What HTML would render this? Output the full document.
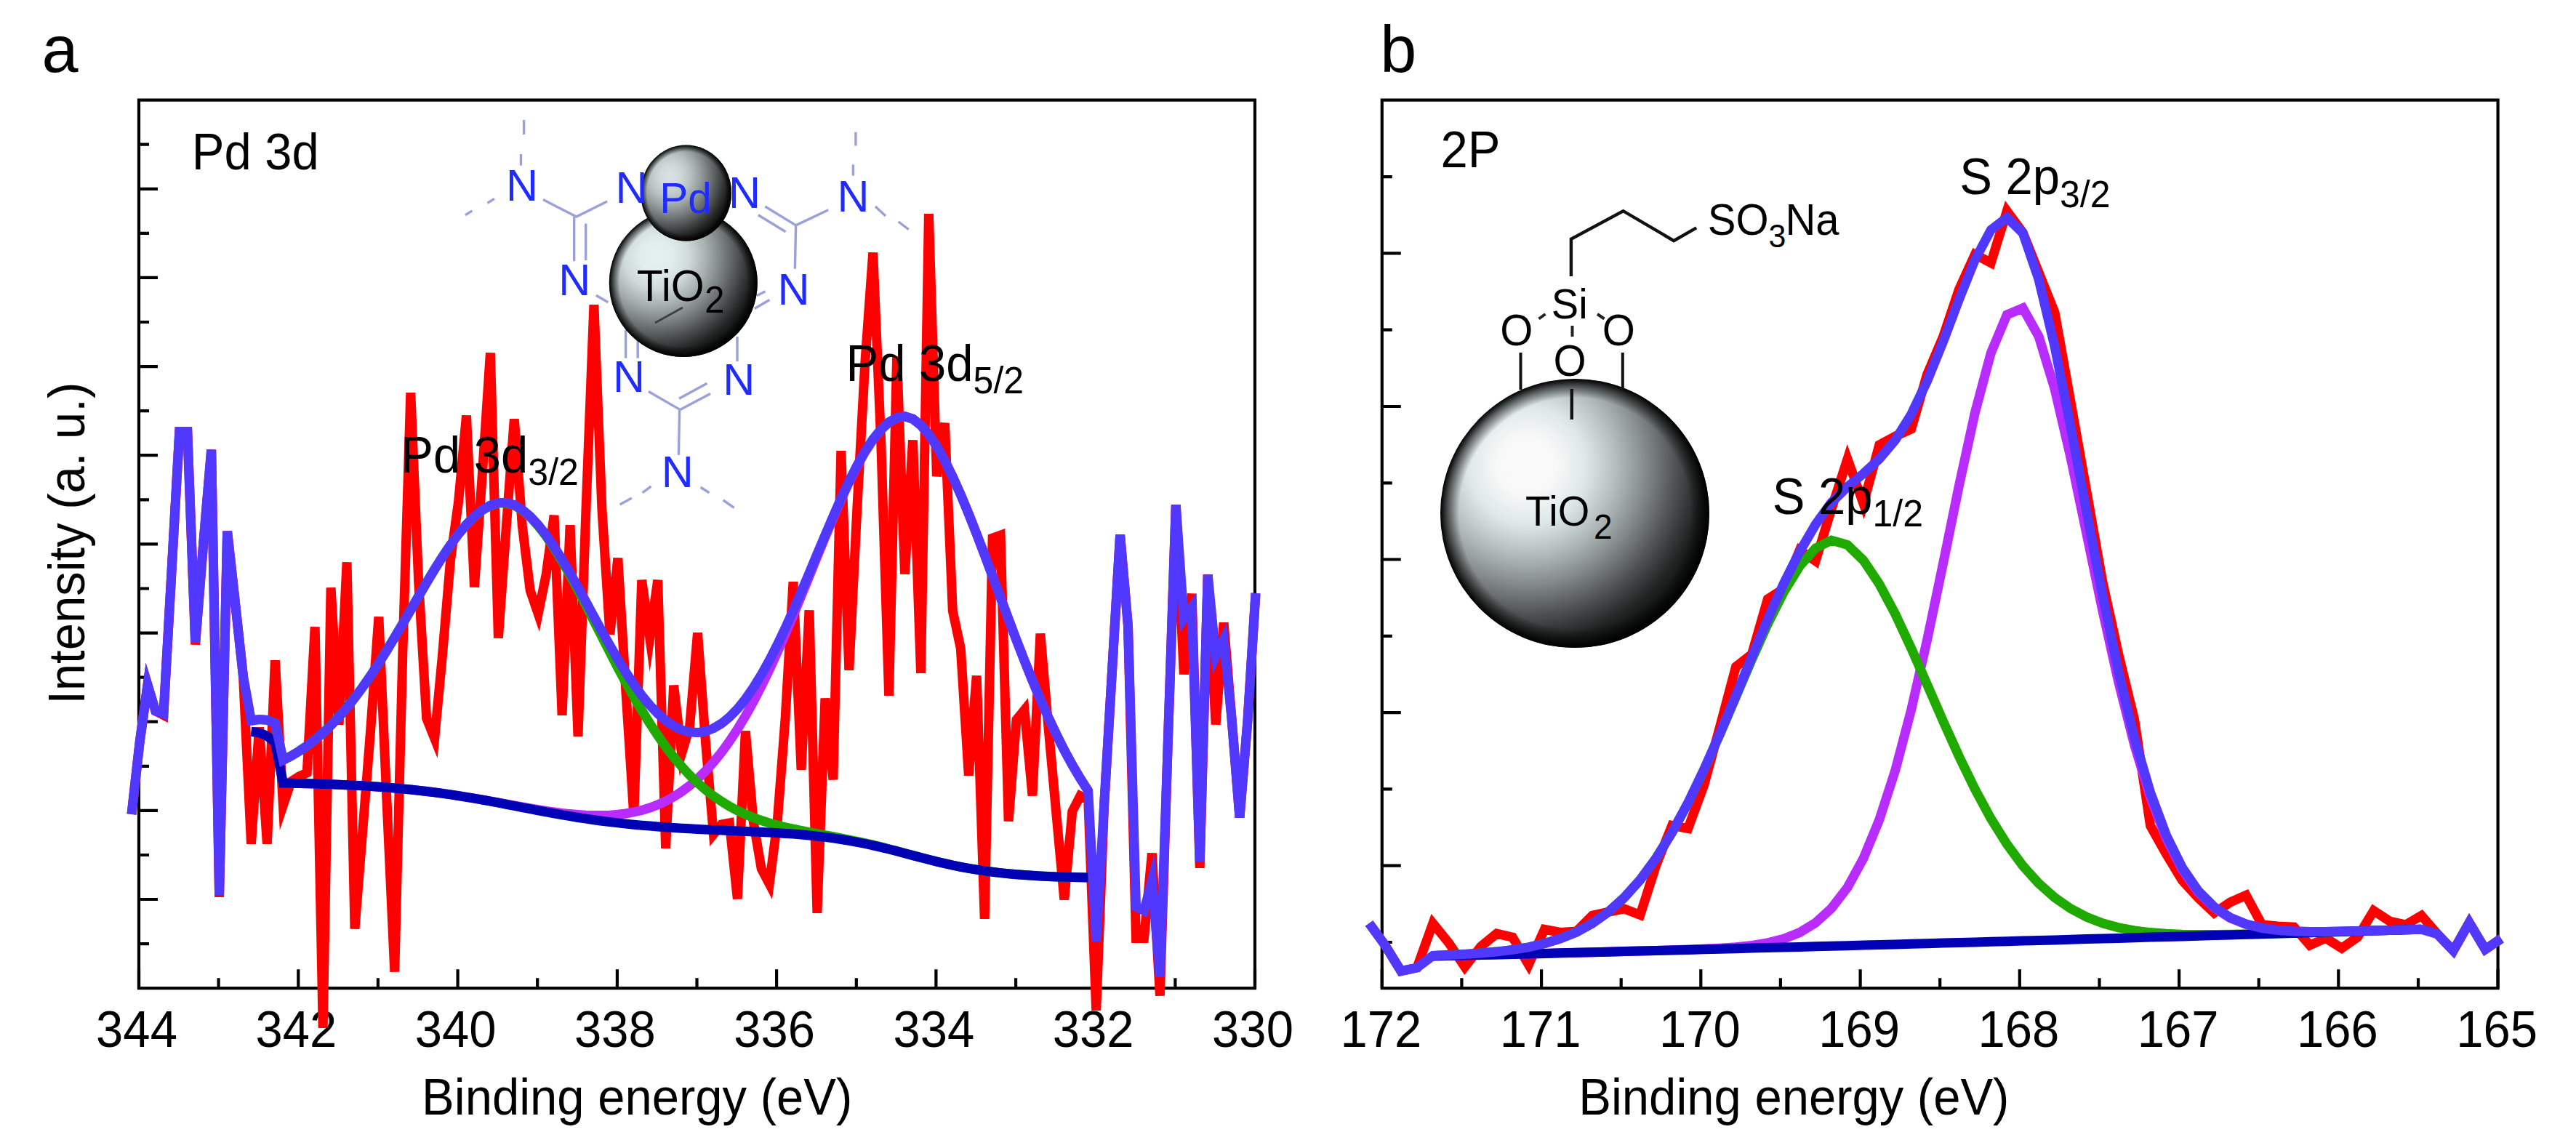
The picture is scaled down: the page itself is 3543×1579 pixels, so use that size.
<!DOCTYPE html><html><head><meta charset="utf-8"><style>html,body{margin:0;padding:0;background:#fff;overflow:hidden}svg{display:block}text{font-family:"Liberation Sans",sans-serif}</style></head><body>
<svg xmlns="http://www.w3.org/2000/svg" width="3543" height="1579" viewBox="0 0 3543 1579">
<defs>
<radialGradient id="gs" cx="0.5" cy="0.5" r="0.5" fx="0.3" fy="0.28"><stop offset="0" stop-color="#ffffff"/><stop offset="0.25" stop-color="#eef1f1"/><stop offset="0.5" stop-color="#b7c1c1"/><stop offset="0.7" stop-color="#6f7c7c"/><stop offset="0.86" stop-color="#2a3232"/><stop offset="0.96" stop-color="#070909"/><stop offset="1" stop-color="#000"/></radialGradient>
</defs>
<rect width="3543" height="1579" fill="#fff"/>
<defs><radialGradient id="sphA" cx="0.322" cy="0.322" r="0.730" gradientTransform="translate(0,0.322) scale(1,1.000) translate(0,-0.322)"><stop offset="0" stop-color="#fafafa"/><stop offset="0.15" stop-color="#f8f8f8"/><stop offset="0.3" stop-color="#dee8e8"/><stop offset="0.45" stop-color="#b5bebe"/><stop offset="0.6" stop-color="#868c8c"/><stop offset="0.75" stop-color="#515555"/><stop offset="0.9" stop-color="#212323"/><stop offset="1.0" stop-color="#0e0f0f"/></radialGradient><radialGradient id="rim" cx="0.5" cy="0.5" r="0.5"><stop offset="0" stop-color="#000" stop-opacity="0"/><stop offset="0.860" stop-color="#000" stop-opacity="0"/><stop offset="0.950" stop-color="#000" stop-opacity="0.600"/><stop offset="1" stop-color="#000" stop-opacity="1"/></radialGradient></defs>
<defs><radialGradient id="sphT" cx="0.32" cy="0.32" r="0.73"><stop offset="0" stop-color="#e5f0f0"/><stop offset="0.15" stop-color="#e1ecec"/><stop offset="0.3" stop-color="#d0dada"/><stop offset="0.45" stop-color="#aab2b2"/><stop offset="0.6" stop-color="#7e8484"/><stop offset="0.75" stop-color="#4e5252"/><stop offset="0.9" stop-color="#202222"/><stop offset="1.0" stop-color="#0b0c0c"/></radialGradient><radialGradient id="sphP" cx="0.32" cy="0.32" r="0.73"><stop offset="0" stop-color="#d8e2e2"/><stop offset="0.15" stop-color="#d0dada"/><stop offset="0.3" stop-color="#bbc4c4"/><stop offset="0.45" stop-color="#99a0a0"/><stop offset="0.6" stop-color="#717676"/><stop offset="0.75" stop-color="#474a4a"/><stop offset="0.9" stop-color="#1d1e1e"/><stop offset="1.0" stop-color="#0a0a0a"/></radialGradient></defs>
<path d="M747.0,274.6 L792.8,298.1 L835.1,277.0" stroke="#9aa0da" stroke-width="3.4" fill="none" />
<path d="M789.7,298.1 L789.7,359.2" stroke="#9aa0da" stroke-width="3.4" fill="none" />
<path d="M805.7,307.5 L805.7,358.1" stroke="#9aa0da" stroke-width="3.4" fill="none" />
<path d="M720.6,165.0 L720.6,185.0" stroke="#9aa0da" stroke-width="3.4" fill="none" />
<path d="M716.4,212.0 L716.4,227.6" stroke="#9aa0da" stroke-width="3.4" fill="none" />
<path d="M680.0,273.4 L670.5,279.3" stroke="#9aa0da" stroke-width="3.4" fill="none" />
<path d="M649.4,289.9 L640.0,295.8" stroke="#9aa0da" stroke-width="3.4" fill="none" />
<path d="M819.8,406.3 L836.3,415.7" stroke="#9aa0da" stroke-width="3.4" fill="none" />
<path d="M1052.3,284.0 L1094.6,309.9" stroke="#9aa0da" stroke-width="3.4" fill="none" />
<path d="M1042.9,295.8 L1080.5,318.8" stroke="#9aa0da" stroke-width="3.4" fill="none" />
<path d="M1094.6,309.9 L1139.3,288.7" stroke="#9aa0da" stroke-width="3.4" fill="none" />
<path d="M1094.6,309.9 L1093.4,369.8" stroke="#9aa0da" stroke-width="3.4" fill="none" />
<path d="M1176.9,181.7 L1176.9,200.5" stroke="#9aa0da" stroke-width="3.4" fill="none" />
<path d="M1173.4,226.4 L1173.4,241.7" stroke="#9aa0da" stroke-width="3.4" fill="none" />
<path d="M1203.9,284.0 L1218.0,297.0" stroke="#9aa0da" stroke-width="3.4" fill="none" />
<path d="M1235.7,305.0 L1249.8,315.7" stroke="#9aa0da" stroke-width="3.4" fill="none" />
<path d="M1037.7,424.4 L1058.4,412.6" stroke="#9aa0da" stroke-width="3.4" fill="none" />
<path d="M1040.7,406.7 L1052.5,400.7" stroke="#9aa0da" stroke-width="3.4" fill="none" />
<path d="M892.0,538.5 L935.5,563.6" stroke="#9aa0da" stroke-width="3.4" fill="none" />
<path d="M935.5,563.6 L977.0,541.4" stroke="#9aa0da" stroke-width="3.4" fill="none" />
<path d="M934.0,548.2 L972.5,527.2" stroke="#9aa0da" stroke-width="3.4" fill="none" />
<path d="M934.6,563.6 L933.4,625.9" stroke="#9aa0da" stroke-width="3.4" fill="none" />
<path d="M895.5,668.8 L883.7,677.7" stroke="#9aa0da" stroke-width="3.4" fill="none" />
<path d="M868.9,685.1 L852.6,694.0" stroke="#9aa0da" stroke-width="3.4" fill="none" />
<path d="M963.6,670.3 L975.5,677.7" stroke="#9aa0da" stroke-width="3.4" fill="none" />
<path d="M994.8,688.0 L1009.6,698.4" stroke="#9aa0da" stroke-width="3.4" fill="none" />
<path d="M860.6,454.0 L860.6,492.6" stroke="#9aa0da" stroke-width="3.4" fill="none" />
<path d="M877.2,454.0 L877.2,492.6" stroke="#9aa0da" stroke-width="3.4" fill="none" />
<path d="M1014.0,463.0 L1014.0,497.0" stroke="#9aa0da" stroke-width="3.4" fill="none" />
<circle cx="939.8" cy="389" r="102" fill="url(#sphT)"/>
<circle cx="939.8" cy="389" r="102" fill="url(#rim)"/>
<path d="M901.0,444.0 L939.0,423.0" stroke="#3c4242" stroke-width="3" fill="none" />
<text transform="translate(875.8,413.7) scale(1,1.04)" font-size="59" fill="#000" text-anchor="start">TiO</text><text transform="translate(969.3,430.0) scale(1,1.04)" font-size="49" fill="#000" text-anchor="start">2</text>
<ellipse cx="943.6" cy="265.5" rx="62.5" ry="66" fill="url(#sphP)"/>
<ellipse cx="943.6" cy="265.5" rx="62.5" ry="66" fill="url(#rim)"/>
<text transform="translate(907.2,292.9) scale(1,1.0)" font-size="58.5" fill="#1f2bff" text-anchor="start">Pd</text>
<text transform="translate(696.1,275.8) scale(1,1.0)" font-size="61" fill="#1f2bff" text-anchor="start">N</text>
<text transform="translate(846.6,278.8) scale(1,1.0)" font-size="61" fill="#1f2bff" text-anchor="start">N</text>
<text transform="translate(1001.9,285.9) scale(1,1.0)" font-size="61" fill="#1f2bff" text-anchor="start">N</text>
<text transform="translate(1151.4,290.6) scale(1,1.0)" font-size="61" fill="#1f2bff" text-anchor="start">N</text>
<text transform="translate(768.3,405.8) scale(1,1.0)" font-size="61" fill="#1f2bff" text-anchor="start">N</text>
<text transform="translate(1069.5,418.5) scale(1,1.0)" font-size="61" fill="#1f2bff" text-anchor="start">N</text>
<text transform="translate(843.1,538.5) scale(1,1.0)" font-size="61" fill="#1f2bff" text-anchor="start">N</text>
<text transform="translate(994.2,542.9) scale(1,1.0)" font-size="61" fill="#1f2bff" text-anchor="start">N</text>
<text transform="translate(909.8,670.3) scale(1,1.0)" font-size="61" fill="#1f2bff" text-anchor="start">N</text>
<circle cx="2166" cy="706" r="185" fill="url(#sphA)"/>
<circle cx="2166" cy="706" r="185" fill="url(#rim)"/>
<path d="M2160.9,380.0 L2160.9,328.7 L2232.5,290.2 L2302.1,331.1 L2333.2,313.3" stroke="#111" stroke-width="4.4" fill="none" stroke-linejoin="miter"/>
<path d="M2091.5,485.0 L2091.5,536.0" stroke="#111" stroke-width="4" fill="none" />
<path d="M2231.8,485.0 L2231.8,536.0" stroke="#111" stroke-width="4" fill="none" />
<path d="M2161.8,535.0 L2161.8,577.0" stroke="#111" stroke-width="4.4" fill="none" />
<path d="M2116.5,438.5 L2125.5,432.0" stroke="#222" stroke-width="4" fill="none" />
<path d="M2197.0,432.0 L2206.5,438.5" stroke="#222" stroke-width="4" fill="none" />
<path d="M2162.5,448.0 L2162.5,463.0" stroke="#222" stroke-width="4" fill="none" />
<text transform="translate(2098.1,723.0) scale(1,1.04)" font-size="56" fill="#000" text-anchor="start">TiO</text><text transform="translate(2191.9,740.5) scale(1,1.04)" font-size="46" fill="#000" text-anchor="start">2</text>
<text transform="translate(2133.8,437.7) scale(1,1.04)" font-size="56" fill="#000" text-anchor="start">Si</text>
<text transform="translate(2063.3,475.0) scale(1,1.04)" font-size="58" fill="#000" text-anchor="start">O</text><text transform="translate(2203.8,475.0) scale(1,1.04)" font-size="58" fill="#000" text-anchor="start">O</text><text transform="translate(2136.5,516.5) scale(1,1.04)" font-size="58" fill="#000" text-anchor="start">O</text>
<text transform="translate(2348.7,323.0) scale(1,1.04)" font-size="58" fill="#000" text-anchor="start">SO</text><text transform="translate(2432.4,340.3) scale(1,1.04)" font-size="43" fill="#000" text-anchor="start">3</text><text transform="translate(2455.4,323.0) scale(1,1.04)" font-size="58" fill="#000" text-anchor="start">Na</text>
<rect x="191.0" y="137.6" width="1535.0" height="1221.6" fill="none" stroke="#000" stroke-width="4.2"/>
<rect x="1900.8" y="137.6" width="1534.8" height="1221.6" fill="none" stroke="#000" stroke-width="4.2"/>
<path d="M191.0,1298.1h14 M191.0,1237.0h26 M191.0,1176.0h14 M191.0,1114.9h26 M191.0,1053.8h14 M191.0,992.7h26 M191.0,931.6h14 M191.0,870.6h26 M191.0,809.5h14 M191.0,748.4h26 M191.0,687.3h14 M191.0,626.2h26 M191.0,565.2h14 M191.0,504.1h26 M191.0,443.0h14 M191.0,381.9h26 M191.0,320.8h14 M191.0,259.8h26 M191.0,198.7h14 M191.0,1359.2v-26 M300.6,1359.2v-14 M410.3,1359.2v-26 M519.9,1359.2v-14 M629.6,1359.2v-26 M739.2,1359.2v-14 M848.9,1359.2v-26 M958.5,1359.2v-14 M1068.1,1359.2v-26 M1177.8,1359.2v-14 M1287.4,1359.2v-26 M1397.1,1359.2v-14 M1506.7,1359.2v-26 M1616.4,1359.2v-14 M1726.0,1359.2v-26" stroke="#000" stroke-width="4.2" fill="none"/>
<path d="M1900.8,1296.0h14 M1900.8,1190.7h26 M1900.8,1085.4h14 M1900.8,980.1h26 M1900.8,874.8h14 M1900.8,769.5h26 M1900.8,664.3h14 M1900.8,559.0h26 M1900.8,453.7h14 M1900.8,348.4h26 M1900.8,243.1h14 M1900.8,1359.2v-26 M2010.4,1359.2v-14 M2120.1,1359.2v-26 M2229.7,1359.2v-14 M2339.3,1359.2v-26 M2448.9,1359.2v-14 M2558.6,1359.2v-26 M2668.2,1359.2v-14 M2777.8,1359.2v-26 M2887.5,1359.2v-14 M2997.1,1359.2v-26 M3106.7,1359.2v-14 M3216.3,1359.2v-26 M3326.0,1359.2v-14 M3435.6,1359.2v-26" stroke="#000" stroke-width="4.2" fill="none"/>
<text transform="translate(188.0,1440.0) scale(1,1.04)" font-size="67" text-anchor="middle" fill="#000" >344</text>
<text transform="translate(407.3,1440.0) scale(1,1.04)" font-size="67" text-anchor="middle" fill="#000" >342</text>
<text transform="translate(626.6,1440.0) scale(1,1.04)" font-size="67" text-anchor="middle" fill="#000" >340</text>
<text transform="translate(845.9,1440.0) scale(1,1.04)" font-size="67" text-anchor="middle" fill="#000" >338</text>
<text transform="translate(1065.1,1440.0) scale(1,1.04)" font-size="67" text-anchor="middle" fill="#000" >336</text>
<text transform="translate(1284.4,1440.0) scale(1,1.04)" font-size="67" text-anchor="middle" fill="#000" >334</text>
<text transform="translate(1503.7,1440.0) scale(1,1.04)" font-size="67" text-anchor="middle" fill="#000" >332</text>
<text transform="translate(1723.0,1440.0) scale(1,1.04)" font-size="67" text-anchor="middle" fill="#000" >330</text>
<text transform="translate(1899.3,1440.0) scale(1,1.04)" font-size="67" text-anchor="middle" fill="#000" >172</text>
<text transform="translate(2118.6,1440.0) scale(1,1.04)" font-size="67" text-anchor="middle" fill="#000" >171</text>
<text transform="translate(2337.8,1440.0) scale(1,1.04)" font-size="67" text-anchor="middle" fill="#000" >170</text>
<text transform="translate(2557.1,1440.0) scale(1,1.04)" font-size="67" text-anchor="middle" fill="#000" >169</text>
<text transform="translate(2776.3,1440.0) scale(1,1.04)" font-size="67" text-anchor="middle" fill="#000" >168</text>
<text transform="translate(2995.6,1440.0) scale(1,1.04)" font-size="67" text-anchor="middle" fill="#000" >167</text>
<text transform="translate(3214.8,1440.0) scale(1,1.04)" font-size="67" text-anchor="middle" fill="#000" >166</text>
<text transform="translate(3434.1,1440.0) scale(1,1.04)" font-size="67" text-anchor="middle" fill="#000" >165</text>
<text transform="translate(580.1,1532.5) scale(1,1.04)" font-size="67" text-anchor="start" fill="#000" >Binding energy (eV)</text>
<text transform="translate(2171.3,1532.5) scale(1,1.04)" font-size="67" text-anchor="start" fill="#000" >Binding energy (eV)</text>
<text transform="translate(115.9,968.8) rotate(-90) scale(1,1.04)" font-size="67">Intensity (a. u.)</text>
<path d="M181.0,1120.0 L192.0,1022.0 L203.0,942.1 L213.9,978.0 L224.9,983.6 L235.9,788.0 L246.8,593.5 L257.8,593.5 L268.7,886.5 L279.7,748.0 L290.7,618.5 L301.6,1233.9 L312.6,730.7 L323.6,830.0 L334.5,930.0 L345.5,1160.6 L356.5,1000.4 L367.4,1160.6 L378.4,908.4 L389.4,1107.7 L400.3,1075.0 L411.3,1068.0 L422.2,1063.0 L433.2,862.4 L444.2,1413.9 L455.1,808.4 L466.1,996.6 L477.1,773.3 L488.0,1277.5 L499.0,1140.0 L510.0,1000.0 L520.9,848.5 L531.9,1100.0 L542.8,1336.7 L553.8,900.0 L564.8,540.3 L575.7,800.0 L586.7,988.0 L597.7,1015.6 L608.6,900.0 L619.6,770.0 L630.6,690.0 L641.5,571.6 L652.5,807.5 L663.5,650.0 L674.4,485.4 L685.4,877.5 L696.3,725.0 L707.3,576.5 L718.3,723.0 L729.2,812.0 L740.2,844.2 L751.2,790.0 L762.1,708.9 L773.1,983.7 L784.1,722.3 L795.0,1012.8 L806.0,700.0 L816.9,419.3 L827.9,700.0 L838.9,872.3 L849.8,767.7 L860.8,950.0 L871.8,1121.6 L882.7,797.9 L893.7,877.0 L904.7,797.9 L915.6,1166.7 L926.6,942.8 L937.6,1036.2 L948.5,1000.0 L959.5,870.5 L970.4,1020.0 L981.4,1147.5 L992.4,1134.0 L1003.3,1132.0 L1014.3,1236.3 L1025.3,1005.6 L1036.2,1130.0 L1047.2,1195.0 L1058.2,1215.8 L1069.1,1131.0 L1080.1,988.0 L1091.0,800.4 L1102.0,1058.7 L1113.0,839.3 L1123.9,1255.8 L1134.9,960.6 L1145.9,1072.4 L1156.8,620.2 L1167.8,921.7 L1178.8,700.0 L1189.7,500.0 L1200.7,347.5 L1211.7,607.0 L1222.6,956.8 L1233.6,490.2 L1244.5,789.6 L1255.5,605.4 L1266.5,925.8 L1277.4,294.2 L1288.4,655.0 L1299.4,582.0 L1310.3,840.0 L1321.3,892.0 L1332.3,1066.5 L1343.2,929.5 L1354.2,1263.8 L1365.1,740.1 L1376.1,736.2 L1387.1,1129.5 L1398.0,990.0 L1409.0,976.5 L1420.0,1094.4 L1430.9,871.6 L1441.9,1000.0 L1452.9,1120.0 L1463.8,1237.4 L1474.8,1116.0 L1485.8,1094.6 L1496.7,1100.0 L1507.7,1389.7 L1518.6,1108.0 L1529.6,922.0 L1540.6,735.6 L1551.5,861.0 L1562.5,1290.5 L1573.5,1290.5 L1584.4,1173.6 L1595.4,1369.6 L1606.4,1019.0 L1617.3,694.3 L1628.3,927.4 L1639.2,816.6 L1650.2,1193.8 L1661.2,790.3 L1672.1,996.5 L1683.1,856.5 L1694.1,989.0 L1705.0,1124.5 L1716.0,991.0 L1727.0,816.0" stroke="#ff0000" stroke-width="13" fill="none" stroke-linejoin="miter" stroke-miterlimit="10"/>
<path d="M345.5,1006.2 L356.5,1007.8 L367.4,1012.3 L378.4,1021.2 L389.4,1077.0 L400.3,1077.2 L411.3,1077.4 L422.2,1077.7 L433.2,1078.0 L444.2,1078.4 L455.1,1078.8 L466.1,1079.2 L477.1,1079.7 L488.0,1080.2 L499.0,1080.8 L510.0,1081.5 L520.9,1082.3 L531.9,1083.1 L542.8,1084.0 L553.8,1085.0 L564.8,1086.0 L575.7,1087.2 L586.7,1088.5 L597.7,1089.8 L608.6,1091.3 L619.6,1092.9 L630.6,1094.5 L641.5,1096.3 L652.5,1098.1 L663.5,1100.0 L674.4,1101.9 L685.4,1103.9 L696.3,1105.9 L707.3,1107.9 L718.3,1109.9 L729.2,1111.8 L740.2,1113.6 L751.2,1115.4 L762.1,1116.9 L773.1,1118.4 L784.1,1119.6 L795.0,1120.5 L806.0,1121.2 L816.9,1121.6 L827.9,1121.6 L838.9,1121.2 L849.8,1120.3 L860.8,1119.0 L871.8,1117.0 L882.7,1114.4 L893.7,1111.0 L904.7,1106.9 L915.6,1101.9 L926.6,1095.9 L937.6,1088.8 L948.5,1080.6 L959.5,1071.2 L970.4,1060.4 L981.4,1048.3 L992.4,1034.7 L1003.3,1019.6 L1014.3,1003.0 L1025.3,984.8 L1036.2,965.1 L1047.2,943.9 L1058.2,921.3 L1069.1,897.4 L1080.1,872.4 L1091.0,846.5 L1102.0,819.8 L1113.0,792.8 L1123.9,765.6 L1134.9,738.7 L1145.9,712.4 L1156.8,687.1 L1167.8,663.3 L1178.8,641.3 L1189.7,621.7 L1200.7,604.8 L1211.7,591.1 L1222.6,580.9 L1233.6,574.7 L1244.5,572.8 L1255.5,576.4 L1266.5,584.9 L1277.4,597.6 L1288.4,614.0 L1299.4,633.5 L1310.3,655.8 L1321.3,680.3 L1332.3,706.7 L1343.2,734.5 L1354.2,763.3 L1365.1,792.6 L1376.1,822.1 L1387.1,851.5 L1398.0,880.5 L1409.0,908.7 L1420.0,936.0 L1430.9,962.0 L1441.9,986.8 L1452.9,1010.1 L1463.8,1031.9 L1474.8,1052.1 L1485.8,1070.7 L1496.7,1087.7" stroke="#b82cff" stroke-width="13" fill="none" stroke-linejoin="miter" stroke-miterlimit="10"/>
<path d="M345.5,991.2 L356.5,989.6 L367.4,990.3 L378.4,994.8 L389.4,1045.5 L400.3,1039.8 L411.3,1033.2 L422.2,1025.8 L433.2,1017.4 L444.2,1008.0 L455.1,997.6 L466.1,986.0 L477.1,973.4 L488.0,959.6 L499.0,944.8 L510.0,929.0 L520.9,912.3 L531.9,894.8 L542.8,876.6 L553.8,858.0 L564.8,839.1 L575.7,820.1 L586.7,801.4 L597.7,783.2 L608.6,765.8 L619.6,749.5 L630.6,734.6 L641.5,721.5 L652.5,710.4 L663.5,701.6 L674.4,695.4 L685.4,692.0 L696.3,691.7 L707.3,695.1 L718.3,701.7 L729.2,711.2 L740.2,723.3 L751.2,737.6 L762.1,754.0 L773.1,772.0 L784.1,791.3 L795.0,811.7 L806.0,832.8 L816.9,854.3 L827.9,875.9 L838.9,897.3 L849.8,918.4 L860.8,938.9 L871.8,958.5 L882.7,977.3 L893.7,995.0 L904.7,1011.6 L915.6,1027.1 L926.6,1041.3 L937.6,1054.3 L948.5,1066.1 L959.5,1076.8 L970.4,1086.3 L981.4,1094.9 L992.4,1102.4 L1003.3,1109.1 L1014.3,1114.9 L1025.3,1120.1 L1036.2,1124.6 L1047.2,1128.5 L1058.2,1131.9 L1069.1,1135.0 L1080.1,1137.7 L1091.0,1140.2 L1102.0,1142.4 L1113.0,1144.6 L1123.9,1146.6 L1134.9,1148.6 L1145.9,1150.7 L1156.8,1152.8 L1167.8,1155.0 L1178.8,1157.3 L1189.7,1159.7 L1200.7,1162.2 L1211.7,1164.9 L1222.6,1167.7 L1233.6,1170.6 L1244.5,1173.5 L1255.5,1176.5 L1266.5,1179.4 L1277.4,1182.2 L1288.4,1185.0 L1299.4,1187.6 L1310.3,1190.0 L1321.3,1192.3 L1332.3,1194.4 L1343.2,1196.2 L1354.2,1197.9 L1365.1,1199.3 L1376.1,1200.6 L1387.1,1201.7 L1398.0,1202.7 L1409.0,1203.6 L1420.0,1204.3 L1430.9,1204.9 L1441.9,1205.4 L1452.9,1205.9 L1463.8,1206.2 L1474.8,1206.6 L1485.8,1206.8 L1496.7,1207.1" stroke="#20aa00" stroke-width="13" fill="none" stroke-linejoin="miter" stroke-miterlimit="10"/>
<path d="M345.5,1006.2 L356.5,1007.8 L367.4,1012.3 L378.4,1021.2 L389.4,1077.0 L400.3,1077.2 L411.3,1077.4 L422.2,1077.7 L433.2,1078.0 L444.2,1078.4 L455.1,1078.8 L466.1,1079.2 L477.1,1079.7 L488.0,1080.2 L499.0,1080.8 L510.0,1081.5 L520.9,1082.3 L531.9,1083.1 L542.8,1084.0 L553.8,1085.0 L564.8,1086.0 L575.7,1087.2 L586.7,1088.5 L597.7,1089.9 L608.6,1091.4 L619.6,1092.9 L630.6,1094.6 L641.5,1096.4 L652.5,1098.2 L663.5,1100.2 L674.4,1102.2 L685.4,1104.2 L696.3,1106.3 L707.3,1108.5 L718.3,1110.6 L729.2,1112.7 L740.2,1114.8 L751.2,1116.9 L762.1,1118.9 L773.1,1120.8 L784.1,1122.7 L795.0,1124.5 L806.0,1126.1 L816.9,1127.7 L827.9,1129.2 L838.9,1130.6 L849.8,1131.9 L860.8,1133.1 L871.8,1134.2 L882.7,1135.2 L893.7,1136.1 L904.7,1137.0 L915.6,1137.8 L926.6,1138.5 L937.6,1139.2 L948.5,1139.8 L959.5,1140.4 L970.4,1140.9 L981.4,1141.4 L992.4,1141.9 L1003.3,1142.4 L1014.3,1142.9 L1025.3,1143.4 L1036.2,1143.9 L1047.2,1144.4 L1058.2,1145.0 L1069.1,1145.7 L1080.1,1146.4 L1091.0,1147.1 L1102.0,1148.0 L1113.0,1149.0 L1123.9,1150.2 L1134.9,1151.4 L1145.9,1152.9 L1156.8,1154.5 L1167.8,1156.3 L1178.8,1158.3 L1189.7,1160.5 L1200.7,1162.8 L1211.7,1165.4 L1222.6,1168.0 L1233.6,1170.8 L1244.5,1173.7 L1255.5,1176.6 L1266.5,1179.5 L1277.4,1182.3 L1288.4,1185.1 L1299.4,1187.6 L1310.3,1190.1 L1321.3,1192.3 L1332.3,1194.4 L1343.2,1196.2 L1354.2,1197.9 L1365.1,1199.3 L1376.1,1200.6 L1387.1,1201.7 L1398.0,1202.7 L1409.0,1203.6 L1420.0,1204.3 L1430.9,1204.9 L1441.9,1205.4 L1452.9,1205.9 L1463.8,1206.2 L1474.8,1206.6 L1485.8,1206.8 L1496.7,1207.1" stroke="#0000b4" stroke-width="13" fill="none" stroke-linejoin="miter" stroke-miterlimit="10"/>
<path d="M181.0,1120.0 L192.0,1022.0 L203.0,942.1 L213.9,978.0 L224.9,981.9 L235.9,788.0 L246.8,593.5 L257.8,593.5 L268.7,883.5 L279.7,748.0 L290.7,618.5 L301.6,1230.9 L312.6,730.7 L323.6,830.0 L334.5,930.0 L345.5,991.2 L356.5,989.6 L367.4,990.3 L378.4,994.8 L389.4,1045.5 L400.3,1039.8 L411.3,1033.2 L422.2,1025.8 L433.2,1017.4 L444.2,1008.0 L455.1,997.6 L466.1,986.0 L477.1,973.4 L488.0,959.6 L499.0,944.8 L510.0,929.0 L520.9,912.3 L531.9,894.8 L542.8,876.6 L553.8,858.0 L564.8,839.1 L575.7,820.1 L586.7,801.4 L597.7,783.2 L608.6,765.8 L619.6,749.4 L630.6,734.5 L641.5,721.4 L652.5,710.2 L663.5,701.4 L674.4,695.1 L685.4,691.7 L696.3,691.3 L707.3,694.6 L718.3,701.0 L729.2,710.3 L740.2,722.1 L751.2,736.1 L762.1,752.0 L773.1,769.5 L784.1,788.2 L795.0,807.8 L806.0,827.9 L816.9,848.1 L827.9,868.3 L838.9,887.9 L849.8,906.8 L860.8,924.7 L871.8,941.3 L882.7,956.5 L893.7,969.9 L904.7,981.5 L915.6,991.1 L926.6,998.6 L937.6,1003.9 L948.5,1006.9 L959.5,1007.6 L970.4,1005.9 L981.4,1001.7 L992.4,995.2 L1003.3,986.3 L1014.3,975.0 L1025.3,961.5 L1036.2,945.7 L1047.2,927.9 L1058.2,908.2 L1069.1,886.8 L1080.1,863.8 L1091.0,839.5 L1102.0,814.2 L1113.0,788.3 L1123.9,762.0 L1134.9,735.9 L1145.9,710.2 L1156.8,685.4 L1167.8,661.9 L1178.8,640.3 L1189.7,620.9 L1200.7,604.2 L1211.7,590.6 L1222.6,580.6 L1233.6,574.4 L1244.5,572.7 L1255.5,576.2 L1266.5,584.8 L1277.4,597.6 L1288.4,613.9 L1299.4,633.5 L1310.3,655.8 L1321.3,680.3 L1332.3,706.7 L1343.2,734.5 L1354.2,763.2 L1365.1,792.6 L1376.1,822.1 L1387.1,851.5 L1398.0,880.5 L1409.0,908.7 L1420.0,936.0 L1430.9,962.0 L1441.9,986.8 L1452.9,1010.1 L1463.8,1031.9 L1474.8,1052.1 L1485.8,1070.7 L1496.7,1087.7 L1507.7,1294.6 L1518.6,1108.0 L1529.6,922.0 L1540.6,735.6 L1551.5,861.0 L1562.5,1247.2 L1573.5,1252.6 L1584.4,1211.2 L1595.4,1343.5 L1606.4,1019.0 L1617.3,694.5 L1628.3,851.3 L1639.2,835.7 L1650.2,1184.8 L1661.2,790.6 L1672.1,903.0 L1683.1,879.9 L1694.1,989.0 L1705.0,1124.5 L1716.0,991.0 L1727.0,816.0" stroke="#5038ff" stroke-width="13" fill="none" stroke-linejoin="miter" stroke-miterlimit="10"/>
<path d="M1883.1,1270.0 L1905.0,1300.0 L1926.9,1335.7 L1948.9,1331.0 L1970.8,1270.0 L1992.7,1297.0 L2014.7,1329.9 L2036.6,1302.0 L2058.5,1284.1 L2080.4,1289.3 L2102.4,1326.8 L2124.3,1278.3 L2146.2,1282.5 L2168.2,1281.0 L2190.1,1259.3 L2212.0,1254.4 L2233.9,1250.0 L2255.9,1258.5 L2277.8,1190.0 L2299.7,1135.4 L2321.7,1139.6 L2343.6,1080.0 L2365.5,1000.0 L2387.5,917.0 L2409.4,900.0 L2431.3,824.0 L2453.2,810.0 L2475.2,756.9 L2497.1,771.7 L2519.0,700.0 L2541.0,631.3 L2562.9,692.8 L2584.8,612.0 L2606.8,600.0 L2628.7,590.0 L2650.6,515.0 L2672.6,463.0 L2694.5,398.0 L2716.4,350.0 L2738.3,361.6 L2760.3,290.2 L2782.2,320.0 L2804.1,375.0 L2826.1,430.0 L2848.0,553.0 L2869.9,676.0 L2891.8,800.0 L2913.8,900.0 L2935.7,990.0 L2957.6,1135.8 L2979.6,1175.0 L3001.5,1211.0 L3023.4,1235.0 L3045.4,1255.7 L3067.3,1241.0 L3089.2,1231.4 L3111.2,1272.0 L3133.1,1274.0 L3155.0,1275.0 L3176.9,1300.1 L3198.9,1290.4 L3220.8,1304.2 L3242.7,1289.0 L3264.7,1252.6 L3286.6,1267.0 L3308.5,1272.0 L3330.4,1259.3 L3352.4,1284.8 L3374.3,1307.7 L3396.2,1268.9 L3418.2,1305.8 L3440.1,1291.0" stroke="#ff0000" stroke-width="13" fill="none" stroke-linejoin="miter" stroke-miterlimit="10"/>
<path d="M1970.8,1315.1 L1992.7,1314.6 L2014.7,1314.1 L2036.6,1313.5 L2058.5,1313.0 L2080.4,1312.4 L2102.4,1311.9 L2124.3,1311.4 L2146.2,1310.8 L2168.2,1310.3 L2190.1,1309.7 L2212.0,1309.2 L2233.9,1308.6 L2255.9,1308.0 L2277.8,1307.5 L2299.7,1306.8 L2321.7,1306.1 L2343.6,1305.3 L2365.5,1304.2 L2387.5,1302.7 L2409.4,1300.5 L2431.3,1296.9 L2453.2,1291.3 L2475.2,1282.6 L2497.1,1269.2 L2519.0,1249.3 L2541.0,1220.6 L2562.9,1180.7 L2584.8,1127.5 L2606.8,1059.4 L2628.7,976.3 L2650.6,880.1 L2672.6,774.9 L2694.5,667.7 L2716.4,567.6 L2738.3,485.5 L2760.3,433.0 L2782.2,423.8 L2804.1,462.8 L2826.1,535.2 L2848.0,629.4 L2869.9,734.2 L2891.8,839.7 L2913.8,938.3 L2935.7,1024.7 L2957.6,1096.6 L2979.6,1153.4 L3001.5,1196.2 L3023.4,1227.1 L3045.4,1248.5 L3067.3,1262.6 L3089.2,1271.4 L3111.2,1276.7 L3133.1,1279.6 L3155.0,1281.0 L3176.9,1281.5 L3198.9,1281.5 L3220.8,1281.1 L3242.7,1280.7 L3264.7,1280.1 L3286.6,1279.5 L3308.5,1278.8 L3330.4,1278.2" stroke="#b82cff" stroke-width="13" fill="none" stroke-linejoin="miter" stroke-miterlimit="10"/>
<path d="M1970.8,1314.5 L1992.7,1313.6 L2014.7,1312.5 L2036.6,1311.0 L2058.5,1309.1 L2080.4,1306.4 L2102.4,1302.8 L2124.3,1297.8 L2146.2,1291.0 L2168.2,1282.0 L2190.1,1270.0 L2212.0,1254.4 L2233.9,1234.7 L2255.9,1210.1 L2277.8,1180.3 L2299.7,1145.1 L2321.7,1104.5 L2343.6,1059.1 L2365.5,1010.0 L2387.5,958.7 L2409.4,907.3 L2431.3,858.3 L2453.2,814.5 L2475.2,778.8 L2497.1,754.0 L2519.0,743.1 L2541.0,749.6 L2562.9,770.7 L2584.8,803.4 L2606.8,844.7 L2628.7,891.7 L2650.6,941.7 L2672.6,992.0 L2694.5,1040.5 L2716.4,1085.6 L2738.3,1126.0 L2760.3,1161.1 L2782.2,1190.8 L2804.1,1215.2 L2826.1,1234.7 L2848.0,1249.8 L2869.9,1261.3 L2891.8,1269.8 L2913.8,1275.8 L2935.7,1279.9 L2957.6,1282.6 L2979.6,1284.3 L3001.5,1285.2 L3023.4,1285.6 L3045.4,1285.6 L3067.3,1285.3 L3089.2,1285.0 L3111.2,1284.5 L3133.1,1283.9 L3155.0,1283.3 L3176.9,1282.7 L3198.9,1282.1 L3220.8,1281.4 L3242.7,1280.8 L3264.7,1280.1 L3286.6,1279.5 L3308.5,1278.8 L3330.4,1278.2" stroke="#20aa00" stroke-width="13" fill="none" stroke-linejoin="miter" stroke-miterlimit="10"/>
<path d="M1970.8,1315.1 L1992.7,1314.6 L2014.7,1314.1 L2036.6,1313.5 L2058.5,1313.0 L2080.4,1312.4 L2102.4,1311.9 L2124.3,1311.4 L2146.2,1310.8 L2168.2,1310.3 L2190.1,1309.7 L2212.0,1309.2 L2233.9,1308.6 L2255.9,1308.1 L2277.8,1307.5 L2299.7,1307.0 L2321.7,1306.4 L2343.6,1305.8 L2365.5,1305.3 L2387.5,1304.7 L2409.4,1304.1 L2431.3,1303.6 L2453.2,1303.0 L2475.2,1302.4 L2497.1,1301.8 L2519.0,1301.2 L2541.0,1300.7 L2562.9,1300.1 L2584.8,1299.5 L2606.8,1298.9 L2628.7,1298.3 L2650.6,1297.7 L2672.6,1297.1 L2694.5,1296.5 L2716.4,1295.9 L2738.3,1295.3 L2760.3,1294.7 L2782.2,1294.1 L2804.1,1293.5 L2826.1,1292.9 L2848.0,1292.3 L2869.9,1291.6 L2891.8,1291.0 L2913.8,1290.4 L2935.7,1289.8 L2957.6,1289.1 L2979.6,1288.5 L3001.5,1287.9 L3023.4,1287.3 L3045.4,1286.6 L3067.3,1286.0 L3089.2,1285.3 L3111.2,1284.7 L3133.1,1284.1 L3155.0,1283.4 L3176.9,1282.8 L3198.9,1282.1 L3220.8,1281.5 L3242.7,1280.8 L3264.7,1280.1 L3286.6,1279.5 L3308.5,1278.8 L3330.4,1278.2" stroke="#0000b4" stroke-width="13" fill="none" stroke-linejoin="miter" stroke-miterlimit="10"/>
<path d="M1883.1,1270.0 L1905.0,1300.0 L1926.9,1335.7 L1948.9,1331.0 L1970.8,1314.5 L1992.7,1313.6 L2014.7,1312.5 L2036.6,1311.0 L2058.5,1309.1 L2080.4,1306.4 L2102.4,1302.8 L2124.3,1297.8 L2146.2,1291.0 L2168.2,1282.0 L2190.1,1270.0 L2212.0,1254.4 L2233.9,1234.6 L2255.9,1210.1 L2277.8,1180.3 L2299.7,1144.9 L2321.7,1104.2 L2343.6,1058.6 L2365.5,1009.0 L2387.5,956.8 L2409.4,903.7 L2431.3,851.7 L2453.2,802.8 L2475.2,758.9 L2497.1,721.4 L2519.0,691.1 L2541.0,669.5 L2562.9,651.4 L2584.8,631.3 L2606.8,605.2 L2628.7,569.8 L2650.6,524.1 L2672.6,469.8 L2694.5,411.7 L2716.4,357.2 L2738.3,316.2 L2760.3,299.4 L2782.2,320.5 L2804.1,384.5 L2826.1,477.0 L2848.0,587.0 L2869.9,703.9 L2891.8,818.4 L2913.8,923.6 L2935.7,1014.9 L2957.6,1090.1 L2979.6,1149.1 L3001.5,1193.5 L3023.4,1225.4 L3045.4,1247.4 L3067.3,1261.9 L3089.2,1271.0 L3111.2,1276.5 L3133.1,1279.5 L3155.0,1280.9 L3176.9,1281.5 L3198.9,1281.4 L3220.8,1281.1 L3242.7,1280.6 L3264.7,1280.1 L3286.6,1279.5 L3308.5,1278.8 L3330.4,1278.2 L3352.4,1284.8 L3374.3,1307.7 L3396.2,1268.9 L3418.2,1305.8 L3440.1,1291.0" stroke="#5038ff" stroke-width="13" fill="none" stroke-linejoin="miter" stroke-miterlimit="10"/>
<text transform="translate(57.4,99.0) scale(1,1.0)" font-size="90" text-anchor="start" fill="#000" >a</text>
<text transform="translate(1898.3,99.1) scale(1,1.0)" font-size="90" text-anchor="start" fill="#000" >b</text>
<text transform="translate(263.7,232.8) scale(1,1.04)" font-size="67" text-anchor="start" fill="#000" >Pd 3d</text>
<text transform="translate(1981.6,229.9) scale(1,1.04)" font-size="67" text-anchor="start" fill="#000" >2P</text>
<text transform="translate(551.3,650.1) scale(1,1.04)" font-size="67" text-anchor="start" fill="#000" >Pd 3d<tspan font-size="50" dy="16.7">3/2</tspan></text>
<text transform="translate(1163.5,523.6) scale(1,1.04)" font-size="67" text-anchor="start" fill="#000" >Pd 3d<tspan font-size="50" dy="16.7">5/2</tspan></text>
<text transform="translate(2695.2,266.9) scale(1,1.04)" font-size="67" text-anchor="start" fill="#000" >S 2p<tspan font-size="50" dy="17">3/2</tspan></text>
<text transform="translate(2437.7,706.5) scale(1,1.04)" font-size="67" text-anchor="start" fill="#000" >S 2p<tspan font-size="50" dy="17">1/2</tspan></text>
</svg></body></html>
